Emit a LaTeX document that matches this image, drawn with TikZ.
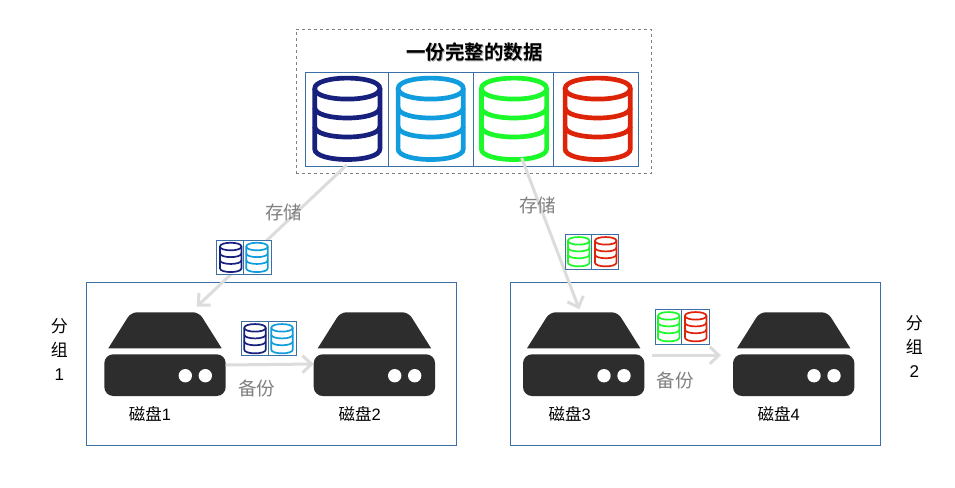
\documentclass[tikz,border=0pt]{standalone}
\usepackage{fontspec}
\setmainfont{Liberation Sans}
\newfontfamily\cjk{Noto Sans CJK SC}
\newfontfamily\cjkbold{Noto Sans CJK SC Bold}
\usetikzlibrary{arrows.meta}
\definecolor{dbnavy}{HTML}{17217D}
\definecolor{dbblue}{HTML}{119CDD}
\definecolor{dbgreen}{HTML}{1BF92A}
\definecolor{dbred}{HTML}{DE2408}
\definecolor{frameblue}{HTML}{3C6FA3}
\definecolor{diskdark}{HTML}{2D2D2D}
\definecolor{arrowgray}{HTML}{DCDCDC}
\definecolor{labelgray}{HTML}{808080}
\tikzset{
  cell/.style={draw=frameblue,line width=0.9pt,inner sep=0pt,outer sep=0pt,fill=white,minimum height=#1},
  groupbox/.style={draw=frameblue,line width=0.9pt,inner sep=0pt,outer sep=0pt,minimum width=370.4pt,minimum height=163pt},
  flow/.style={draw=arrowgray,line width=3pt,-{Straight Barb[length=9pt,width=17pt,line width=3pt]}},
  graylabel/.style={text=labelgray,font=\cjk\fontsize{18.5}{20}\selectfont,inner sep=0pt},
  disklabel/.style={text=black,font=\fontsize{16.5}{18}\selectfont,inner sep=0pt},
  grouplabel/.style={text=black,font=\fontsize{17}{23.7}\selectfont,inner sep=0pt,align=center},
  diskbody/.style={minimum width=121.4pt,minimum height=41.7pt,inner sep=0pt,outer sep=0pt,fill=diskdark,rounded corners=9pt},
}
% icon: centre x, top y, x scale, y scale, colour, line width
\newcommand{\dbicon}[6]{%
  \begin{scope}[shift={(#1,#2)},xscale=#3,yscale=#4,draw=#5,line width=#6,line cap=butt]
    \draw (-32.6,12.6) .. controls (-32.6,-1.4) and (32.6,-1.4) .. (32.6,12.6)
          .. controls (32.6,26.6) and (-32.6,26.6) .. cycle;
    \draw (-32.6,31.5) .. controls (-32.6,45.5) and (32.6,45.5) .. (32.6,31.5);
    \draw (-32.6,50.5) .. controls (-32.6,64.5) and (32.6,64.5) .. (32.6,50.5);
    \draw (-32.6,12.6) -- (-32.6,73) .. controls (-32.6,87) and (32.6,87) .. (32.6,73) -- (32.6,12.6);
  \end{scope}}
% disk: node name, left x of the body
\newcommand{\diskicon}[2]{%
  \node[diskbody,anchor=north west] (#1) at (#2,354.3) {};
  \fill[diskdark] (#2+4,348.3) [rounded corners=6pt] -- (#2+26.7,312.3) -- (#2+94.7,312.3) [sharp corners] -- (#2+117.4,348.3) -- cycle;
  \fill[white] (#2+81,375.7) circle[radius=6.7pt] (#2+101,375.7) circle[radius=6.7pt];}
\begin{document}
\begin{tikzpicture}[x=1pt,y=-1pt]
\useasboundingbox (0,0) rectangle (955,487);
\fill[white] (0,0) rectangle (955,487);
% whole data
\node[draw=gray,dashed,line width=0.9pt,minimum width=355.4pt,minimum height=144pt,inner sep=0pt,outer sep=0pt] (whole) at (474,101.3) {};
\node[text=black!35,font=\cjkbold\fontsize{19.5}{22}\selectfont,inner sep=0pt] at (475.2,53) {一份完整的数据};
\node[text=black,font=\cjkbold\fontsize{19.5}{22}\selectfont,inner sep=0pt] (title) at (474.3,52) {一份完整的数据};
\node[cell=93.7pt,minimum width=83pt] (c1) at (346.8,119.2) {};
\node[cell=93.7pt,minimum width=85.4pt] (c2) at (431,119.2) {};
\node[cell=93.7pt,minimum width=79.6pt] (c3) at (513.5,119.2) {};
\node[cell=93.7pt,minimum width=85pt] (c4) at (595.8,119.2) {};
\dbicon{347.3}{76}{1}{1}{dbnavy}{4.7pt}
\dbicon{430.7}{76}{1}{1}{dbblue}{4.7pt}
\dbicon{514}{76}{1}{1}{dbgreen}{4.7pt}
\dbicon{597.7}{76}{1}{1}{dbred}{4.7pt}
% groups
\node[groupbox] (g1) at (271.5,363.8) {};
\node[groupbox] (g2) at (695.5,363.8) {};
\diskicon{d1}{104.3}
\diskicon{d2}{313.7}
\diskicon{d3}{523}
\diskicon{d4}{733}
% connector end points
\coordinate (s1) at (346.7,165);
\coordinate (e1) at (196.7,306.7);
\coordinate (s2) at (521.7,158);
\coordinate (e2) at (579.3,309.3);
\coordinate (s3) at (652,355.3);
\coordinate (e3) at (721,355.3);
\draw[flow] (s1) -- (e1);
\draw[flow] (s2) -- (e2);
\draw[flow] (d1.east |- 0,365) -- (d2.west |- 0,364);
\draw[flow] (s3) -- (e3);
% small stores
\node[cell=34pt,minimum width=27.4pt] (a1) at (230,257.3) {};
\node[cell=34pt,minimum width=28pt] (a2) at (257.7,257.3) {};
\dbicon{230.7}{242}{.33}{.36}{dbnavy}{1.7pt}
\dbicon{257}{242}{.33}{.36}{dbblue}{1.7pt}
\node[cell=34pt,minimum width=27pt] (b1) at (255.2,338.3) {};
\node[cell=34pt,minimum width=28pt] (b2) at (282.7,338.3) {};
\dbicon{255}{323.3}{.33}{.36}{dbnavy}{1.7pt}
\dbicon{282}{323.3}{.33}{.36}{dbblue}{1.7pt}
\node[cell=34.7pt,minimum width=26pt] (p1) at (578.3,251.7) {};
\node[cell=34.7pt,minimum width=27.4pt] (p2) at (605,251.7) {};
\dbicon{578.7}{236.3}{.33}{.36}{dbgreen}{1.7pt}
\dbicon{605.7}{236.3}{.33}{.36}{dbred}{1.7pt}
\node[cell=34.7pt,minimum width=26.4pt] (q1) at (668.5,326.7) {};
\node[cell=34.7pt,minimum width=28pt] (q2) at (695.7,326.7) {};
\dbicon{668.7}{311.3}{.33}{.36}{dbgreen}{1.7pt}
\dbicon{695.7}{311.3}{.33}{.36}{dbred}{1.7pt}
% labels
\node[graylabel] (l1) at (283.5,212) {存储};
\node[graylabel] (l2) at (537.5,205) {存储};
\node[graylabel] (l3) at (256.5,388.5) {备份};
\node[graylabel] (l4) at (675,380) {备份};
\node[disklabel] (n1) at (150,414) {{\cjk 磁盘}1};
\node[disklabel] (n2) at (359.7,414) {{\cjk 磁盘}2};
\node[disklabel] (n3) at (569.7,414) {{\cjk 磁盘}3};
\node[disklabel] (n4) at (778.7,414) {{\cjk 磁盘}4};
\node[grouplabel] (t1) at (59.3,349.5) {{\cjk 分}\\{\cjk 组}\\1};
\node[grouplabel] (t2) at (914.3,346.5) {{\cjk 分}\\{\cjk 组}\\2};
\end{tikzpicture}
\end{document}
